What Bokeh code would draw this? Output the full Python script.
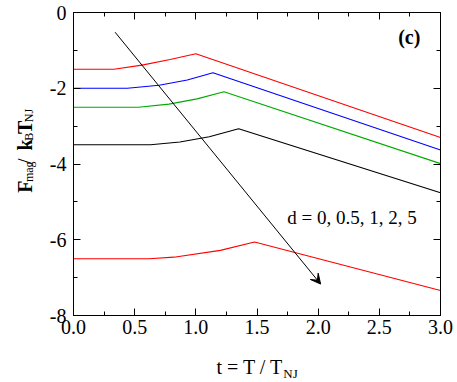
import math
from bokeh.plotting import figure
from bokeh.layouts import column, row
from bokeh.models import (Range1d, LinearAxis, FixedTicker, PrintfTickFormatter,
                          Label, Arrow, VeeHead)
from bokeh.embed import file_html
from bokeh.resources import INLINE

# ---- data ----
t_a = [0.0, 0.33, 0.56, 0.79, 1.00, 3.0]
F_a = [-1.50, -1.50, -1.39, -1.24, -1.09, -3.30]

t_b = [0.0, 0.44, 0.70, 0.93, 1.14, 3.0]
F_b = [-2.00, -2.00, -1.92, -1.78, -1.59, -3.63]

t_c = [0.0, 0.53, 0.78, 1.01, 1.23, 3.0]
F_c = [-2.50, -2.50, -2.42, -2.28, -2.09, -3.99]

t_d = [0.0, 0.63, 0.87, 1.11, 1.35, 3.0]
F_d = [-3.49, -3.49, -3.42, -3.28, -3.07, -4.76]

t_e = [0.0, 0.62, 0.82, 1.20, 1.48, 3.0]
F_e = [-6.50, -6.50, -6.46, -6.28, -6.06, -7.34]

series_colors = ["#ff0000", "#0000ff", "#00aa00", "#000000", "#ff0000"]

x_major = [0.0, 0.5, 1.0, 1.5, 2.0, 2.5, 3.0]
x_minor = [0.25, 0.75, 1.25, 1.75, 2.25, 2.75]
y_major = [-8, -6, -4, -2, 0]
y_minor = [-7, -5, -3, -1]

arrow_from = (0.34, -0.52)
arrow_to = (2.02, -7.17)

panel_tag = "(c)"
panel_tag_pos = (2.745, -0.66)
d_text = "d = 0, 0.5, 1, 2, 5"
d_text_pos = (1.747, -5.415)

SERIF = "Liberation Serif"

# layout sizes (pixels)
W_TOTAL, H_TOTAL = 457, 382
W_YT = 40          # strip holding the y-axis title
H_XT = 34          # strip holding the x-axis title
W_MAIN = W_TOTAL - W_YT
H_MAIN = H_TOTAL - H_XT

p = figure(width=W_MAIN, height=H_MAIN, output_backend="svg", toolbar_location=None,
           x_range=Range1d(0, 3), y_range=Range1d(-8, 0),
           x_axis_location=None, y_axis_location=None,
           min_border_left=73 - W_YT, min_border_right=W_TOTAL - 440,
           min_border_top=12, min_border_bottom=H_MAIN - 315)
p.grid.visible = False
p.outline_line_color = "black"
p.outline_line_width = 1
p.background_fill_color = "white"
p.border_fill_color = "white"


def style_axis(ax, labels):
    ax.axis_line_color = "black"
    ax.axis_line_width = 1
    ax.major_tick_in = 7
    ax.major_tick_out = 0
    ax.minor_tick_in = 4
    ax.minor_tick_out = 0
    ax.major_tick_line_color = "black"
    ax.minor_tick_line_color = "black"
    ax.axis_label = None
    if labels:
        ax.major_label_text_font = SERIF
        ax.major_label_text_font_size = "20px"
        ax.major_label_text_color = "black"
    else:
        ax.major_label_text_font_size = "1px"
        ax.major_label_text_color = None
        ax.major_label_standoff = 0


xt = FixedTicker(ticks=x_major, minor_ticks=x_minor)
yt = FixedTicker(ticks=y_major, minor_ticks=y_minor)

bx = LinearAxis(ticker=xt, formatter=PrintfTickFormatter(format="%.1f"))
style_axis(bx, True)
bx.major_label_standoff = 4
p.add_layout(bx, "below")

ly = LinearAxis(ticker=yt, formatter=PrintfTickFormatter(format="%d"))
style_axis(ly, True)
ly.major_label_standoff = 7
p.add_layout(ly, "left")

tx = LinearAxis(ticker=xt)
style_axis(tx, False)
p.add_layout(tx, "above")

ry = LinearAxis(ticker=yt)
style_axis(ry, False)
p.add_layout(ry, "right")

for (tt, FF), col in zip([(t_a, F_a), (t_b, F_b), (t_c, F_c), (t_d, F_d), (t_e, F_e)],
                         series_colors):
    p.line(tt, FF, line_color=col, line_width=1.1)

p.add_layout(Arrow(end=VeeHead(size=10, fill_color="black", line_color="black"),
                   x_start=arrow_from[0], y_start=arrow_from[1],
                   x_end=arrow_to[0], y_end=arrow_to[1],
                   line_color="black", line_width=1))

p.add_layout(Label(x=panel_tag_pos[0], y=panel_tag_pos[1], text=panel_tag,
                   text_font=SERIF, text_font_size="20px", text_font_style="bold",
                   text_align="center", text_baseline="middle", text_color="black"))
p.add_layout(Label(x=d_text_pos[0], y=d_text_pos[1], text=d_text,
                   text_font=SERIF, text_font_size="19px",
                   text_align="left", text_baseline="alphabetic", text_color="black"))


def strip(w, h):
    f = figure(width=w, height=h, output_backend="svg", toolbar_location=None,
               x_range=Range1d(0, w), y_range=Range1d(0, h),
               x_axis_location=None, y_axis_location=None,
               min_border=0, min_border_left=0, min_border_right=0,
               min_border_top=0, min_border_bottom=0)
    f.grid.visible = False
    f.outline_line_color = None
    f.background_fill_color = "white"
    f.border_fill_color = "white"
    return f


# ---- y-axis title: F_mag / k_B T_NJ (rotated, built from pieces) ----
yfig = strip(W_YT, H_MAIN)
y_pieces = [("F", "bold", 20, 0.611, False), ("mag", "normal", 12, 1.722, True),
            (" / ", "normal", 20, 0.778, False), ("k", "bold", 20, 0.556, False),
            ("B", "normal", 12, 0.667, True), ("T", "bold", 20, 0.667, False),
            ("NJ", "normal", 12, 1.111, True)]
pos = H_MAIN - 207.0
for txt, style, size, em, sub in y_pieces:
    yfig.add_layout(Label(x=28.5 if sub else 24, y=pos,
                          text=txt, angle=math.pi / 2, text_font=SERIF,
                          text_font_size=f"{size}px", text_font_style=style,
                          text_align="left", text_baseline="alphabetic",
                          text_color="black"))
    pos += em * size

# ---- x-axis title: t = T / T_NJ ----
xfig = strip(W_TOTAL, H_XT)
main_x = "t = T / T"
xfig.add_layout(Label(x=216, y=H_TOTAL - 366, text=main_x,
                      text_font=SERIF, text_font_size="20px",
                      text_align="left", text_baseline="alphabetic", text_color="black"))
xfig.add_layout(Label(x=216 + 3.342 * 20, y=H_TOTAL - 373, text="NJ",
                      text_font=SERIF, text_font_size="13px",
                      text_align="left", text_baseline="alphabetic", text_color="black"))

layout = column(row(yfig, p, spacing=0), xfig, spacing=0)
open("out.html", "w").write(file_html(layout, INLINE))
